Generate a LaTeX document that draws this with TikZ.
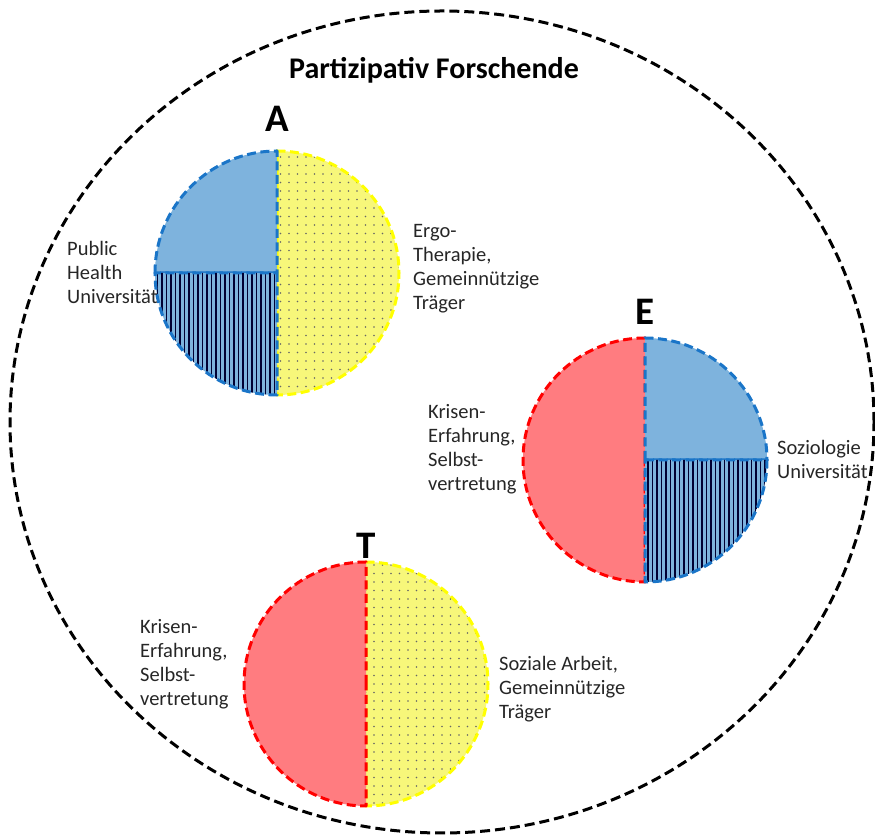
\documentclass[tikz,border=0pt]{standalone}
\usepackage{fontspec}
\setmainfont{Carlito}
\usetikzlibrary{patterns.meta}
\definecolor{bluefill}{HTML}{7EB3DD}
\definecolor{blueline}{HTML}{1A75C8}
\definecolor{redfill}{HTML}{FF7C80}
\definecolor{redline}{HTML}{FF0000}
\definecolor{yelfill}{HTML}{F7F77A}
\definecolor{yelline}{HTML}{FFFF00}
\definecolor{txt}{HTML}{262626}
\tikzset{
  slice/.style={line width=3pt, dash pattern=on 9pt off 4.5pt, line join=round},
  blueq/.style={slice, draw=blueline, fill=bluefill},
  stripeq/.style={slice, draw=blueline, preaction={fill=bluefill},
    pattern={Lines[angle=90,distance=4.5pt,line width=1.3pt]}, pattern color=black!80!blue},
  yelh/.style={slice, draw=yelline, preaction={fill=yelfill},
    pattern={Dots[distance=8.5pt,radius=0.9pt]}, pattern color=black!60},
  redh/.style={slice, draw=redline, fill=redfill},
  lbl/.style={text=txt, font=\fontsize{20.5}{24}\selectfont, align=left, anchor=west, inner sep=0pt},
  letter/.style={font=\bfseries\fontsize{39}{44}\selectfont, inner sep=0pt},
  outer/.style={line width=3pt, dash pattern=on 10pt off 5pt}
}
\begin{document}
\begin{tikzpicture}[x=1pt,y=1pt]
\useasboundingbox (0,0) rectangle (875,837);
\draw[outer] (442,415) ellipse [x radius=432, y radius=411];
\node[font=\bfseries\fontsize{30}{34}\selectfont, inner sep=0pt] (title) at (434,767) {Partizipativ Forschende};

% Circle A
\coordinate (cA) at (277,564);
\draw[yelh] (cA) -- ++(0,122) arc[start angle=90,end angle=-90,radius=122] -- cycle;
\draw[blueq] (cA) -- ++(-122,0) arc[start angle=180,end angle=90,radius=122] -- cycle;
\draw[stripeq] (cA) -- ++(0,-122) arc[start angle=270,end angle=180,radius=122] -- cycle;
\node[letter] (lA) at (277,718) {A};
\node[lbl] (pub) at (67,565) {Public\\Health\\Universität};
\node[lbl] (ergo) at (413,568) {Ergo-\\Therapie,\\Gemeinnützige\\Träger};

% Circle E
\coordinate (cE) at (645,377);
\draw[redh] (cE) -- ++(0,122) arc[start angle=90,end angle=270,radius=122] -- cycle;
\draw[blueq] (cE) -- ++(0,122) arc[start angle=90,end angle=0,radius=122] -- cycle;
\draw[stripeq] (cE) -- ++(122,0) arc[start angle=0,end angle=-90,radius=122] -- cycle;
\node[letter] (lE) at (645,525) {E};
\node[lbl] (krE) at (428,388) {Krisen-\\Erfahrung,\\Selbst-\\vertretung};
\node[lbl] (soz) at (777,378) {Soziologie\\Universität};

% Circle T
\coordinate (cT) at (366,153);
\draw[yelh] (cT) -- ++(0,122) arc[start angle=90,end angle=-90,radius=122] -- cycle;
\draw[redh] (cT) -- ++(0,122) arc[start angle=90,end angle=270,radius=122] -- cycle;
\node[letter] (lT) at (366,291) {T};
\node[lbl] (krT) at (140,173) {Krisen-\\Erfahrung,\\Selbst-\\vertretung};
\node[lbl] (sa) at (499,148) {Soziale Arbeit,\\Gemeinnützige\\Träger};
\end{tikzpicture}
\end{document}
